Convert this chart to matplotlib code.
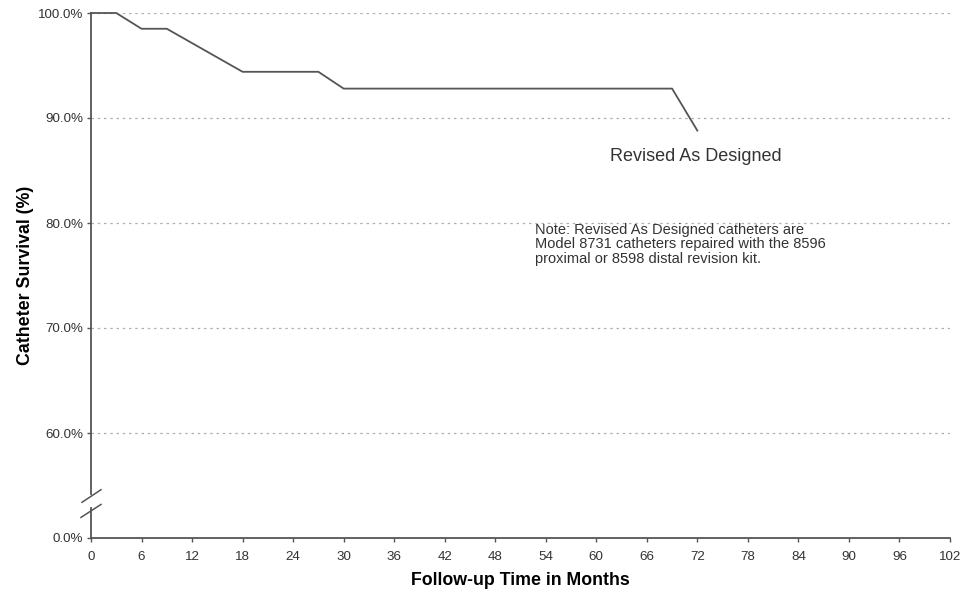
import matplotlib
matplotlib.use("Agg")
import matplotlib.pyplot as plt

# Data
months = [0, 3, 6, 9, 18, 27, 30, 69, 72]
survival = [100.0, 100.0, 98.5, 98.5, 94.4, 94.4, 92.8, 92.8, 88.8]
x_ticks = list(range(0, 103, 6))
y_ticks = [50, 60, 70, 80, 90, 100]          # 50 stands for the broken-axis 0%
y_tick_labels = ["0.0%", "60.0%", "70.0%", "80.0%", "90.0%", "100.0%"]
grid_levels = [60, 70, 80, 90, 100]

plt.rcParams['font.family'] = ['Liberation Sans', 'DejaVu Sans']

fig = plt.figure(figsize=(9.61, 5.97), dpi=100)
ax = fig.add_axes([91/961, 59/597, (950-91)/961, (538-13)/597])

ax.plot(months, survival, color='#555555', lw=1.3, clip_on=False, zorder=3)

ax.set_xlim(0, 102)
ax.set_ylim(50, 100)
ax.set_xticks(x_ticks)
ax.set_yticks(y_ticks)
ax.set_yticklabels(y_tick_labels)

for g in grid_levels:
    ax.axhline(g, color='#b0b0b0', lw=0.9, ls=(0, (2, 3)), zorder=1)

for s in ['top', 'right']:
    ax.spines[s].set_visible(False)
ax.spines['left'].set_bounds(54.15, 100)
ax.spines['left'].set_color('#555555')
ax.spines['bottom'].set_color('#555555')
ax.spines['left'].set_linewidth(1.3)
ax.spines['bottom'].set_linewidth(1.3)

# lower axis segment and break marks
ax.plot([0, 0], [50, 52.9], color='#555555', lw=1.3, clip_on=False)
ax.plot([-1.07, 1.19], [53.4, 54.6], color='#555555', lw=1.1, clip_on=False)
ax.plot([-1.19, 1.19], [51.96, 53.2], color='#555555', lw=1.1, clip_on=False)

ax.tick_params(axis='both', colors='#555555', labelcolor='#333333', labelsize=9.6,
               length=3, width=1)
ax.tick_params(axis='x', pad=6.5)
ax.tick_params(axis='y', pad=2.5)

ax.set_xlabel("Follow-up Time in Months", fontsize=12.8, fontweight='bold', labelpad=6)
ax.set_ylabel("Catheter Survival (%)", fontsize=12.8, fontweight='bold', labelpad=3)

ax.text(61.6, 86.3, "Revised As Designed", fontsize=13, color='#333333',
        va='center', ha='left')
ax.text(52.7, 80.0, "Note: Revised As Designed catheters are\n"
        "Model 8731 catheters repaired with the 8596\n"
        "proximal or 8598 distal revision kit.",
        fontsize=10.5, color='#333333', va='top', ha='left', linespacing=1.03)

fig.savefig("out.png", dpi=100)
